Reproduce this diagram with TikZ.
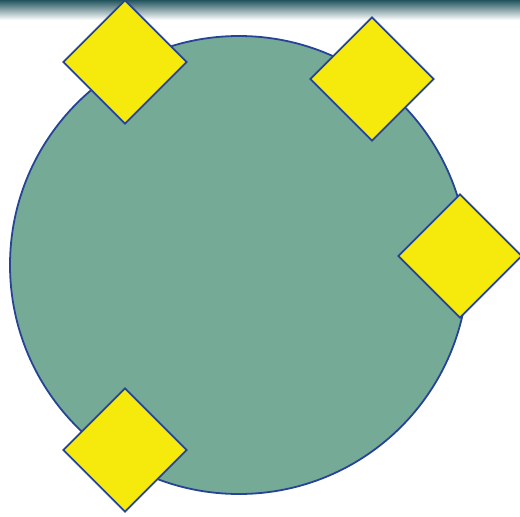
\documentclass[tikz,border=0pt]{standalone}
\usepackage{xcolor}
\usepackage{tikz}
\usetikzlibrary{shapes.geometric}

\definecolor{discteal}{RGB}{117,170,151}
\definecolor{edgeblue}{RGB}{38,68,150}
\definecolor{tagyellow}{RGB}{245,234,12}
\definecolor{bandteal}{RGB}{34,84,94}

\begin{document}
\begin{tikzpicture}[
            x=1pt, y=-1pt,
            disc/.style={draw=edgeblue, fill=discteal, line width=1.8pt,
            circle, minimum size=458pt, inner sep=0pt},
            tag/.style={draw=edgeblue, fill=tagyellow, line width=1.8pt,
            diamond, minimum width=124pt, minimum height=124pt, inner sep=0pt}
        ]
            \useasboundingbox (0,0) rectangle (520,517);
            \clip (0,0) rectangle (520,517);
% blurred strip along the top edge
            \shade[top color=bandteal, middle color=bandteal!45, bottom color=white] (0,0) rectangle (520,20);

% the disc
            \node[disc] (hub) at (239,265) {};

% the four tags round its rim
            \node[tag] (tagnw) at (125,62)  {};
            \node[tag] (tagne) at (372,79)  {};
            \node[tag] (tage)  at (460,256) {};
            \node[tag] (tagsw) at (125,450) {};
        \end{tikzpicture}
\end{document}
